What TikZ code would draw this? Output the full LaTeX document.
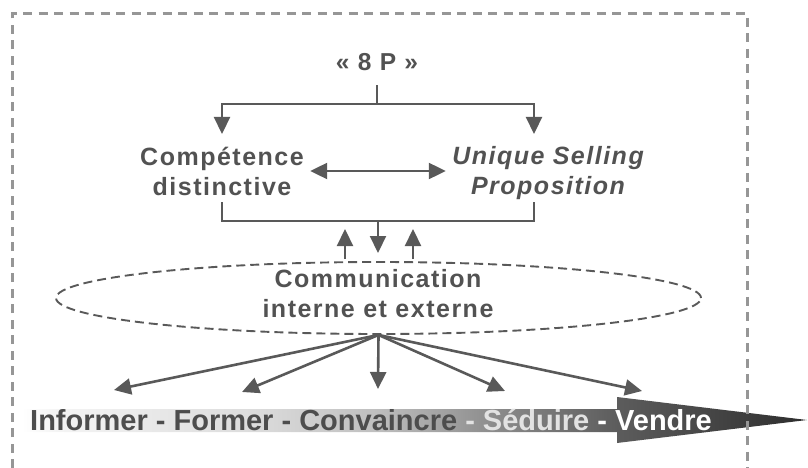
\documentclass[tikz,border=0pt]{standalone}
\usepackage{fontspec}
\setmainfont{Liberation Sans}
\newfontfamily\spacedfont{Liberation Sans}[LetterSpace=6]
\usetikzlibrary{arrows.meta,shapes.geometric}
\definecolor{txt}{HTML}{525252}
\definecolor{ln}{HTML}{595959}
\definecolor{framec}{HTML}{969696}
\definecolor{lighttxt}{HTML}{E2E2E2}
\definecolor{darktxt}{HTML}{4D4D4D}
\pgfdeclarehorizontalshading{bandshade}{100bp}{color(0bp)=(white); color(25bp)=(white); color(27bp)=(black!4); color(40bp)=(black!14); color(47.5bp)=(black!25); color(55bp)=(black!45); color(63bp)=(black!64); color(75bp)=(black!82); color(100bp)=(black!82)}
\begin{document}
\begin{tikzpicture}[x=1pt,y=-1pt,
  lbl/.style={text=txt, font=\spacedfont\bfseries\fontsize{25}{30}\selectfont, align=center},
  lblit/.style={lbl, font=\spacedfont\bfseries\itshape\fontsize{25}{30}\selectfont},
  conn/.style={draw=ln, line width=2.2pt},
  arr/.style={conn, -{Triangle[width=16pt,length=17pt]}},
  darr/.style={conn, {Triangle[width=16pt,length=17pt]}-{Triangle[width=16pt,length=17pt]}},
  fan/.style={draw=ln, line width=2.6pt, -{Triangle[width=16pt,length=17pt]}},
  framebox/.style={draw=framec, line width=3pt, dash pattern=on 9pt off 6.5pt},
  commell/.style={ellipse, draw=ln, line width=1.9pt, dash pattern=on 9pt off 5pt, minimum width=645pt, minimum height=72pt, inner sep=0pt}
]
\useasboundingbox (0,0) rectangle (808,468);

% gradient arrow
\shade[shading=bandshade] (22,409) -- (617,409) -- (617,397) -- (807,420) -- (617,443) -- (617,432) -- (22,432) -- cycle;
\node[anchor=base west, inner sep=0pt, font=\bfseries\fontsize{29}{34}\selectfont] (steps) at (30,430)
  {\textcolor{darktxt}{Informer - Former - Convaincre} \textcolor{lighttxt}{- Séduire} \textcolor{white}{- Vendre}};

% top part
\node[lbl, font=\spacedfont\bfseries\fontsize{24.5}{29}\selectfont, inner sep=14pt, anchor=base] (p8) at (377,71) {« 8 P »};
\coordinate (j1) at (377,104);
\coordinate (t1) at (222,134);
\coordinate (t2) at (534,134);
\draw[conn] (p8.south) -- (j1);
\draw[arr] (j1) -| (t1);
\draw[arr] (j1) -| (t2);

\node[lbl, text width=176pt, inner xsep=0pt] (comp) at (222,171) {Compétence\\distinctive};
\node[lblit, text width=204pt, inner xsep=0pt] (usp) at (548,173.5) {Unique Selling\\Proposition};
\draw[darr] (comp.east) -- (comp.east -| usp.west);

\coordinate (b1) at (222,202);
\coordinate (b2) at (534,202);
\coordinate (j2) at (378,221);
\coordinate (m1) at (378,253);
\draw[conn] (b1) |- (j2) -| (b2);
\draw[arr] (j2) -- (m1);

% ellipse
\node[commell] (ell) at (378.5,298) {};
\node[lbl] (comm) at (378,294) {Communication\\interne et externe};

\coordinate (u1s) at (345,259);
\coordinate (u1) at (345,229);
\coordinate (u2s) at (413,259);
\coordinate (u2) at (413,229);
\draw[arr] (u1s) -- (u1);
\draw[arr] (u2s) -- (u2);

% fan
\coordinate (f1) at (114,390);
\coordinate (f2) at (242,392);
\coordinate (f3) at (378,389);
\coordinate (f4) at (505,391);
\coordinate (f5) at (642,391);
\foreach \f in {f1,f2,f3,f4,f5} \draw[fan] (ell.south) -- (\f);

% frame
\draw[framebox] (12.7,468) -- (12.7,13.3) -- (747,13.3) -- (747,468);
\end{tikzpicture}
\end{document}
